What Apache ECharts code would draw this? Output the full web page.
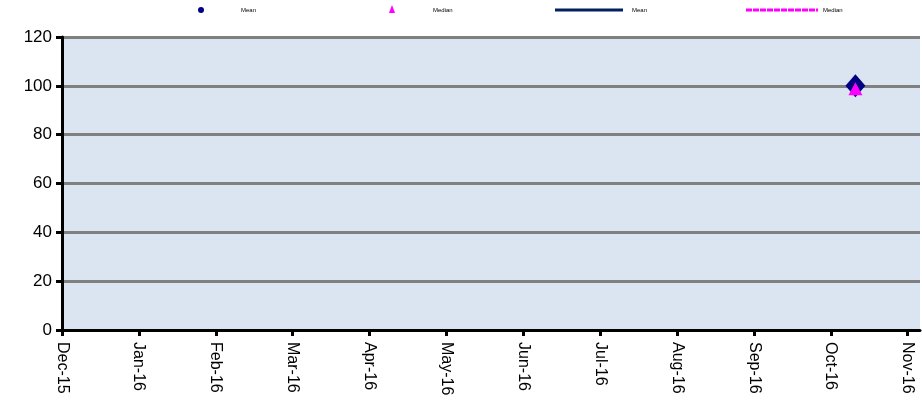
<!DOCTYPE html>
<html><head><meta charset="utf-8">
<script src="https://cdn.jsdelivr.net/npm/echarts@6/dist/echarts.min.js"></script>
<style>html,body{margin:0;padding:0;background:#fff}#c{width:922px;height:417px}</style>
</head><body><div id="c"></div>
<script>
var monthLabels = ['Dec-15','Jan-16','Feb-16','Mar-16','Apr-16','May-16','Jun-16','Jul-16','Aug-16','Sep-16','Oct-16','Nov-16'];
var yTicks = [0,20,40,60,80,100,120];
var pointX = [10.32];        // ~ Oct 11, 2016 (month index)
var meanValues = [100];
var medianValues = [100];

function pairs(xs, ys){ return xs.map(function(x,i){return [x, ys[i]];}); }

var chart = echarts.init(document.getElementById('c'));
chart.setOption({
  animation:false,
  backgroundColor:'#ffffff',
  grid:{left:62,right:2,top:37,bottom:87,containLabel:false,show:true,backgroundColor:'#dbe5f1',borderWidth:0},
  xAxis:{
    type:'value', min:0, max:11.16, interval:1,
    axisLine:{show:true,onZero:false,lineStyle:{color:'#000',width:3}},
    axisTick:{show:true,length:6,lineStyle:{color:'#000',width:3}},
    splitLine:{show:false},
    axisLabel:{rotate:-90,margin:12,fontFamily:'Liberation Sans, Arial',fontSize:16,color:'#000',showMaxLabel:false,
      formatter:function(v){ var i=Math.round(v); return Math.abs(v-i)<1e-6 && monthLabels[i]!==undefined ? monthLabels[i] : ''; }}
  },
  yAxis:{
    type:'value', min:yTicks[0], max:yTicks[yTicks.length-1], interval:20,
    axisLine:{show:true,lineStyle:{color:'#000',width:3}},
    axisTick:{show:true,length:6,lineStyle:{color:'#000',width:3}},
    splitLine:{show:true,lineStyle:{color:'#808080',width:3}},
    axisLabel:{margin:10,fontFamily:'Liberation Sans, Arial',fontSize:17,color:'#000'}
  },
  series:[
    {name:'Mean',type:'scatter',data:pairs(pointX,meanValues),symbol:'diamond',symbolSize:[20,23],
      itemStyle:{color:'#000080',opacity:1},z:3},
    {name:'Median',type:'scatter',data:pairs(pointX,medianValues),symbol:'triangle',symbolSize:[14,13],symbolOffset:[0,3],
      itemStyle:{color:'#ff00ff',opacity:1},z:4},
    {name:'Mean line',type:'line',data:pairs(pointX,meanValues),showSymbol:false,lineStyle:{color:'#002060',width:3}},
    {name:'Median line',type:'line',data:pairs(pointX,medianValues),showSymbol:false,lineStyle:{color:'#ff00ff',width:3,type:'dashed'}}
  ],
  graphic:[
    {type:'circle',shape:{cx:201,cy:10,r:3},style:{fill:'#000080'}},
    {type:'text',left:241,top:7,style:{text:'Mean',fontSize:6,fill:'#000',fontFamily:'Liberation Sans, Arial'}},
    {type:'polygon',shape:{points:[[392,5],[395,13],[389,13]]},style:{fill:'#ff00ff'}},
    {type:'text',left:433,top:7,style:{text:'Median',fontSize:6,fill:'#000',fontFamily:'Liberation Sans, Arial'}},
    {type:'line',shape:{x1:555,y1:10,x2:623,y2:10},style:{stroke:'#002060',lineWidth:3}},
    {type:'text',left:632,top:7,style:{text:'Mean',fontSize:6,fill:'#000',fontFamily:'Liberation Sans, Arial'}},
    {type:'line',shape:{x1:746,y1:10,x2:818,y2:10},style:{stroke:'#ff00ff',lineWidth:3,lineDash:[6,1]}},
    {type:'text',left:823,top:7,style:{text:'Median',fontSize:6,fill:'#000',fontFamily:'Liberation Sans, Arial'}}
  ]
});
</script>
</body></html>
